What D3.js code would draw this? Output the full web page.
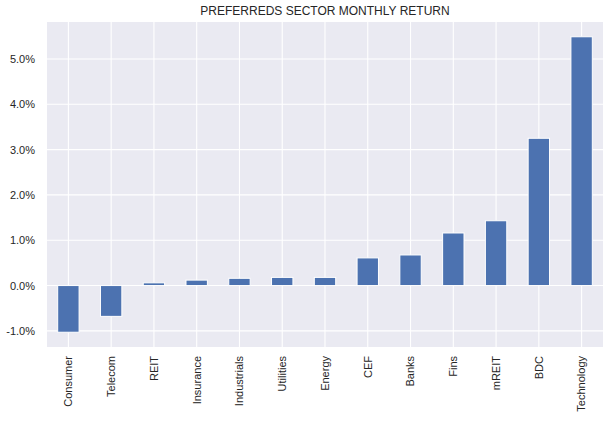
<!DOCTYPE html>
<html>
<head>
<meta charset="utf-8">
<script src="https://cdn.jsdelivr.net/npm/d3@7"></script>
<style>
  html, body { margin: 0; padding: 0; background: #fff; }
  svg { display: block; }
  text { font-family: "Liberation Sans", Arial, sans-serif; fill: #262626; }
</style>
</head>
<body>
<svg id="chart" width="616" height="421"></svg>
<script>
const categories = ["Consumer","Telecom","REIT","Insurance","Industrials","Utilities","Energy","CEF","Banks","Fins","mREIT","BDC","Technology"];
const returns = [-1.03, -0.68, 0.06, 0.12, 0.16, 0.18, 0.18, 0.61, 0.675, 1.16, 1.43, 3.25, 5.49];
const yTicks = [-1, 0, 1, 2, 3, 4, 5];
const title = "PREFERREDS SECTOR MONTHLY RETURN";

const W = 616, H = 421;
const margin = {left: 47, right: 13, top: 22, bottom: 74};
const pw = W - margin.left - margin.right;
const ph = H - margin.top - margin.bottom;

const svg = d3.select("#chart");
const g = svg.append("g").attr("transform", `translate(${margin.left},${margin.top})`);

const lo = d3.min(returns), hi = d3.max(returns);
const pad = (hi - lo) * 0.05;
const y = d3.scaleLinear().domain([lo - pad, hi + pad]).range([ph, 0]);
const x = d3.scaleBand().domain(categories).range([0, pw]).paddingInner(0).paddingOuter(0);

g.append("rect").attr("width", pw).attr("height", ph).attr("fill", "#EAEAF2");

// grid
g.append("g").selectAll("line").data(yTicks).join("line")
  .attr("x1", 0).attr("x2", pw)
  .attr("y1", d => y(d)).attr("y2", d => y(d))
  .attr("stroke", "#fff").attr("stroke-width", 1.1);
g.append("g").selectAll("line").data(categories).join("line")
  .attr("x1", d => x(d) + x.bandwidth()/2).attr("x2", d => x(d) + x.bandwidth()/2)
  .attr("y1", 0).attr("y2", ph)
  .attr("stroke", "#fff").attr("stroke-width", 1.1);

// bars
const bw = x.bandwidth() * 0.5;
g.append("g").selectAll("rect").data(returns).join("rect")
  .attr("x", (d, i) => x(categories[i]) + x.bandwidth()/2 - bw/2)
  .attr("width", bw)
  .attr("y", d => y(Math.max(0, d)))
  .attr("height", d => Math.abs(y(d) - y(0)))
  .attr("fill", "#4C72B0")
  .attr("stroke", "#fff").attr("stroke-width", 1);

// y axis
const yAxis = d3.axisLeft(y).tickValues(yTicks).tickSize(0).tickPadding(12)
  .tickFormat(d => d.toFixed(1) + "%");
const ya = g.append("g").call(yAxis);
ya.select(".domain").remove();
ya.selectAll("text").attr("font-size", 11).style("fill", "#262626")
  .attr("font-family", "'Liberation Sans', Arial, sans-serif");

// x axis
const xAxis = d3.axisBottom(x).tickSize(0).tickPadding(0);
const xa = g.append("g").attr("transform", `translate(0,${ph})`).call(xAxis);
xa.select(".domain").remove();
xa.selectAll("text")
  .attr("font-size", 11).style("fill", "#262626")
  .attr("font-family", "'Liberation Sans', Arial, sans-serif")
  .attr("text-anchor", "end")
  .attr("dy", "0.35em")
  .attr("transform", "translate(0,9) rotate(-90)")
  .attr("x", 0).attr("y", 0);

// title
svg.append("text")
  .attr("x", margin.left + pw/2).attr("y", 15)
  .attr("text-anchor", "middle")
  .attr("font-size", 12)
  .text(title);
</script>
</body>
</html>
